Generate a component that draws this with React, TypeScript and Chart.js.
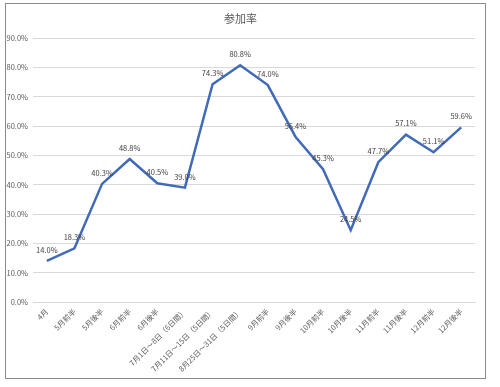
import React, { useEffect, useRef } from "react";
import { Chart, registerables } from "chart.js";

Chart.register(...registerables);

const categories: string[] = [
  "4月",
  "5月前半",
  "5月後半",
  "6月前半",
  "6月後半",
  "7月1日～8日（6日間）",
  "7月11日～15日（5日間）",
  "8月25日～31日（5日間）",
  "9月前半",
  "9月後半",
  "10月前半",
  "10月後半",
  "11月前半",
  "11月後半",
  "12月前半",
  "12月後半",
];

const participationRate: number[] = [
  14.0, 18.3, 40.3, 48.8, 40.5, 39.0, 74.3, 80.8, 74.0, 56.4, 45.3, 24.5, 47.7, 57.1, 51.1, 59.6,
];

const yTicks: number[] = [0, 10, 20, 30, 40, 50, 60, 70, 80, 90];

const chartTitle = "参加率";
const FONT = "'Noto Sans CJK JP', 'Noto Sans', sans-serif";
const TEXT = "#595959";

const dataLabelPlugin = {
  id: "dataLabels",
  afterDatasetsDraw(chart: any) {
    const ctx = chart.ctx;
    const meta = chart.getDatasetMeta(0);
    ctx.save();
    ctx.font = `7.5px ${FONT}`;
    ctx.fillStyle = "#404040";
    ctx.textAlign = "center";
    ctx.textBaseline = "middle";
    meta.data.forEach((pt: any, i: number) => {
      const v = participationRate[i];
      ctx.fillText(v.toFixed(1) + "%", pt.x, pt.y - 11);
    });
    ctx.restore();
  },
};

export default function App() {
  const ref = useRef<HTMLCanvasElement>(null);
  useEffect(() => {
    if (!ref.current) return;
    const chart = new Chart(ref.current, {
      type: "line",
      data: {
        labels: categories,
        datasets: [
          {
            label: chartTitle,
            data: participationRate,
            borderColor: "#416bb8",
            backgroundColor: "#416bb8",
            borderWidth: 2.5,
            pointRadius: 0,
            tension: 0,
          },
        ],
      },
      options: {
        animation: false,
        responsive: false,
        maintainAspectRatio: false,
        layout: { padding: { left: 0, right: 10, top: 0, bottom: 0 } },
        plugins: {
          legend: { display: false },
          tooltip: { enabled: false },
          title: {
            display: true,
            text: chartTitle,
            color: TEXT,
            font: { family: FONT, size: 11, weight: "normal" },
            padding: { top: 8, bottom: 13 },
          },
        },
        scales: {
          x: {
            offset: true,
            grid: { display: false, drawTicks: false },
            border: { display: true, color: "#d9d9d9", width: 1 },
            ticks: {
              autoSkip: false,
              minRotation: 45,
              maxRotation: 45,
              color: TEXT,
              padding: 5,
              font: { family: FONT, size: 7.5 },
            },
            afterFit: (scale: any) => {
              scale.height = 76;
            },
          },
          y: {
            min: 0,
            max: 90,
            afterBuildTicks: (scale: any) => {
              scale.ticks = yTicks.map((v) => ({ value: v }));
            },
            grid: { color: "#d9d9d9", drawTicks: false, lineWidth: 1 },
            border: { display: false },
            ticks: {
              color: TEXT,
              padding: 5,
              font: { family: FONT, size: 7.5 },
              callback: (v: any) => Number(v).toFixed(1) + "%",
            },
            afterFit: (scale: any) => {
              scale.width = 27;
            },
          },
        },
      },
      plugins: [dataLabelPlugin],
    });
    return () => chart.destroy();
  }, []);

  return (
    <div
      style={{
        position: "fixed",
        left: 0,
        top: 0,
        width: 500,
        height: 387,
        background: "#ffffff",
        overflow: "hidden",
      }}
    >
      <div
        style={{
          position: "absolute",
          left: 5,
          top: 3,
          width: 479,
          height: 374,
          border: "1px solid #8a8a8a",
          background: "#ffffff",
        }}
      >
        <canvas ref={ref} width={479} height={374} style={{ display: "block" }} />
      </div>
    </div>
  );
}
